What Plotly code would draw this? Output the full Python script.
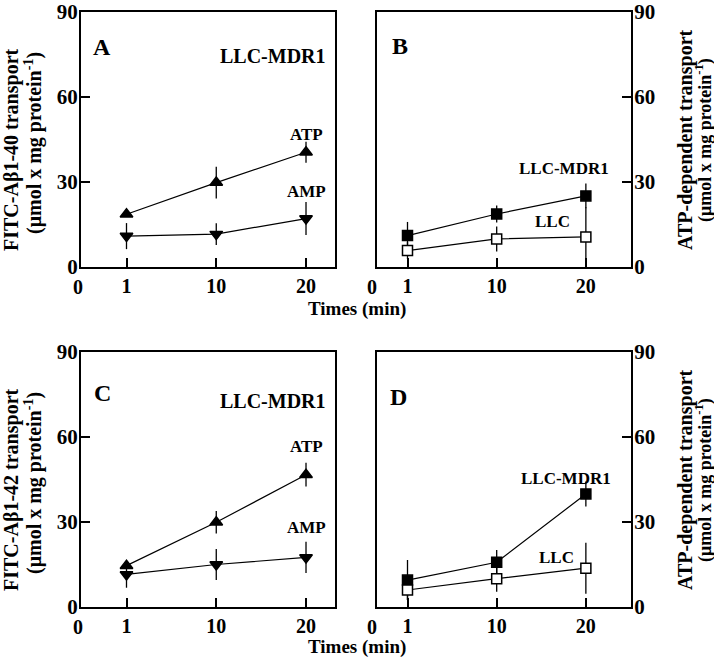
import plotly.graph_objects as go

# ---------------- data ----------------
times = [1, 10, 20]
time_labels = ["1", "10", "20"]
y_ticks = [0, 30, 60, 90]

# Panel A: FITC-Aβ1-40 transport, LLC-MDR1
a_atp = [18.6, 29.8, 40.5]
a_atp_err = [0.8, 5.6, 3.7]
a_amp = [10.9, 11.6, 17.1]
a_amp_err = [4.6, 3.8, 5.8]

# Panel B: ATP-dependent transport (Aβ1-40)
b_mdr1 = [11.1, 18.7, 25.1]
b_mdr1_err = [4.8, 3.0, 4.4]
b_llc = [5.8, 9.9, 10.6]
b_llc_err = [3.0, 4.4, 10.5]

# Panel C: FITC-Aβ1-42 transport, LLC-MDR1
c_atp = [14.6, 29.9, 46.7]
c_atp_err = [1.0, 4.0, 4.2]
c_amp = [11.5, 15.0, 17.5]
c_amp_err = [4.7, 5.5, 5.5]

# Panel D: ATP-dependent transport (Aβ1-42)
d_mdr1 = [9.5, 15.8, 39.9]
d_mdr1_err = [7.1, 4.3, 4.4]
d_llc = [6.0, 10.0, 13.7]
d_llc_err = [3.5, 4.6, 9.0]

FONT = "Liberation Serif, Times New Roman, serif"
xpos = list(range(len(times)))

fig = go.Figure()


def add_series(xa, ya, yv, err, symbol, fill, name):
    fig.add_trace(go.Scatter(
        x=xpos, y=yv, xaxis=xa, yaxis=ya, name=name,
        mode="lines+markers",
        line=dict(color="black", width=1.2),
        marker=dict(symbol=symbol, size=11 if "triangle" in symbol else 10,
                    color=fill, line=dict(color="black", width=1.5)),
        error_y=dict(type="data", array=err, visible=True, width=0,
                     thickness=1.3, color="black"),
        showlegend=False,
    ))


add_series("x", "y", a_atp, a_atp_err, "triangle-up", "black", "ATP")
add_series("x", "y", a_amp, a_amp_err, "triangle-down", "black", "AMP")
add_series("x2", "y2", b_mdr1, b_mdr1_err, "square", "black", "LLC-MDR1")
add_series("x2", "y2", b_llc, b_llc_err, "square", "white", "LLC")
add_series("x3", "y3", c_atp, c_atp_err, "triangle-up", "black", "ATP")
add_series("x3", "y3", c_amp, c_amp_err, "triangle-down", "black", "AMP")
add_series("x4", "y4", d_mdr1, d_mdr1_err, "square", "black", "LLC-MDR1")
add_series("x4", "y4", d_llc, d_llc_err, "square", "white", "LLC")

W, H = 714, 662
left_dom = [81 / W, 335 / W]
right_dom = [377 / W, 631 / W]
top_dom = [1 - 267 / H, 1 - 12 / H]
bot_dom = [1 - 607 / H, 1 - 352 / H]
left_range = [-0.507, 2.323]
right_range = [-0.342, 2.506]


def xax(dom, rng, anchor):
    return dict(domain=dom, range=rng, anchor=anchor, showline=True,
                linecolor="black", linewidth=2, mirror=True, ticks="inside",
                ticklen=9, tickwidth=1.5, tickcolor="black",
                tickvals=xpos, ticktext=time_labels, showgrid=False,
                zeroline=False, tickfont=dict(size=20), automargin=False)


def yax(dom, anchor, side):
    return dict(domain=dom, range=[0, 90], anchor=anchor, side=side,
                showline=True, linecolor="black", linewidth=2, mirror=True,
                ticks="inside", ticklen=9, tickwidth=1.5, tickcolor="black",
                tickvals=y_ticks, showgrid=False, zeroline=False,
                tickfont=dict(size=21), automargin=False,
                ticklabelstandoff=-3)


fig.update_layout(
    template="none",
    width=W, height=H, autosize=False,
    margin=dict(l=0, r=0, t=0, b=0, pad=0),
    paper_bgcolor="white", plot_bgcolor="white",
    font=dict(family=FONT, size=20, color="black", weight="bold"),
    xaxis=xax(left_dom, left_range, "y"),
    yaxis=yax(top_dom, "x", "left"),
    xaxis2=xax(right_dom, right_range, "y2"),
    yaxis2=yax(top_dom, "x2", "right"),
    xaxis3=xax(left_dom, left_range, "y3"),
    yaxis3=yax(bot_dom, "x3", "left"),
    xaxis4=xax(right_dom, right_range, "y4"),
    yaxis4=yax(bot_dom, "x4", "right"),
)

ann = []


def txt(x, y, t, xref, yref, size, **kw):
    d = dict(x=x, y=y, text=t, xref=xref, yref=yref, showarrow=False,
             font=dict(family=FONT, size=size, color="black", weight="bold"),
             xanchor="center", yanchor="middle")
    d.update(kw)
    ann.append(d)


# "0" labels of the time axes (left of the first data column)
for xr, yr, xd in [("x domain", "y domain", -0.012), ("x2 domain", "y2 domain", -0.019),
                   ("x3 domain", "y3 domain", -0.012), ("x4 domain", "y4 domain", -0.019)]:
    txt(xd, -0.080, "0", xr, yr, 20)

# panel letters & labels
txt(-0.27, 77.6, "A", "x", "y", 24)
txt(1.63, 74.3, "LLC-MDR1", "x", "y", 20)
txt(2.01, 46.9, "ATP", "x", "y", 17)
txt(2.01, 26.5, "AMP", "x", "y", 17)

txt(-0.08, 78.0, "B", "x2", "y2", 24)
txt(1.76, 34.9, "LLC-MDR1", "x2", "y2", 17)
txt(1.63, 16.0, "LLC", "x2", "y2", 17)

txt(-0.27, 75.5, "C", "x3", "y3", 24)
txt(1.63, 72.7, "LLC-MDR1", "x3", "y3", 20)
txt(2.01, 56.5, "ATP", "x3", "y3", 17)
txt(2.01, 27.9, "AMP", "x3", "y3", 17)

txt(-0.10, 74.0, "D", "x4", "y4", 24)
txt(1.78, 45.5, "LLC-MDR1", "x4", "y4", 17)
txt(1.67, 17.6, "LLC", "x4", "y4", 17)

# axis titles
unit = "(μmol x mg protein<sup>-1</sup>)"
for (y0, l1) in [(1 - 150 / H, "FITC-Aβ1-40 transport"),
                 (1 - 490 / H, "FITC-Aβ1-42 transport")]:
    txt(11 / W, y0, l1, "paper", "paper", 20, textangle=-90)
    txt(33 / W, y0 + 7 / H, unit, "paper", "paper", 20, textangle=-90)
for y0 in [1 - 140 / H, 1 - 480 / H]:
    txt(685 / W, y0, "ATP-dependent transport", "paper", "paper", 20, textangle=-90)
    txt(704 / W, y0, unit, "paper", "paper", 18, textangle=-90)

txt(357 / W, 1 - 309 / H, "Times (min)", "paper", "paper", 19)
txt(357 / W, 1 - 647 / H, "Times (min)", "paper", "paper", 19)

fig.update_layout(annotations=ann)
fig.write_html("out.html",
               config={"displayModeBar": False},
               post_script="document.body.style.margin='0';"
                           "document.body.style.padding='0';")
